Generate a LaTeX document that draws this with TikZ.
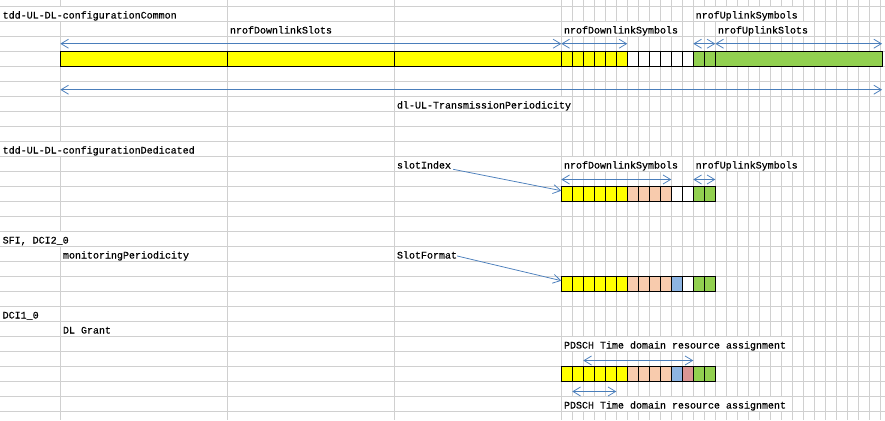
\documentclass[tikz,border=0pt]{standalone}
\usepackage{fontspec}
\setmainfont[FakeBold=0.5]{Liberation Mono}
\usetikzlibrary{arrows.meta}
\definecolor{gridc}{HTML}{D0D0D0}
\definecolor{ylw}{HTML}{FFFF00}
\definecolor{grn}{HTML}{92D050}
\definecolor{org}{HTML}{F8CBAD}
\definecolor{blu}{HTML}{8DB4E2}
\definecolor{pnk}{HTML}{DA9694}
\definecolor{arr}{HTML}{4A7EBB}
\begin{document}
\begin{tikzpicture}[x=1pt,y=-1pt,
  lbl/.style={anchor=base west, inner sep=0pt, font=\fontsize{10}{12}\selectfont},
  cell/.style={draw=black, line width=0.9pt, anchor=north west, minimum width=11pt, minimum height=15pt, inner sep=0pt, outer sep=0pt},
  wide/.style={cell, minimum width=167pt},
  gline/.style={draw=gridc, line width=1pt},
  conn/.style={draw=arr, line width=0.75pt},
  dbl/.style={conn, {Straight Barb[length=7.5pt,width=9pt]}-{Straight Barb[length=7.5pt,width=9pt]}},
  sgl/.style={conn, -{Straight Barb[length=7.5pt,width=9pt]}}]
\useasboundingbox (0,0) rectangle (885,420);
\fill[white] (0,0) rectangle (885,420);
% grid
\foreach \x in {60.3,227.3,394.3} \draw[gline] (\x,0) -- (\x,420);
\foreach \k in {0,...,29} \draw[gline] ({561.3+11*\k},0) -- ({561.3+11*\k},420);
\foreach \k in {0,...,27} \draw[gline] (0,{6.7+15*\k}) -- (885,{6.7+15*\k});
% overflow text hides gridlines
\fill[white] (0,7.2) rectangle (226.8,21.2);
\fill[white] (693.8,7.2) rectangle (802.8,21.2);
\fill[white] (561.8,22.2) rectangle (681.8,36.2);
\fill[white] (715.8,22.2) rectangle (813.8,36.2);
\fill[white] (394.8,97.2) rectangle (571.8,111.2);
\fill[white] (0,142.2) rectangle (226.8,156.2);
\fill[white] (561.8,157.2) rectangle (681.8,171.2);
\fill[white] (693.8,157.2) rectangle (802.8,171.2);
\fill[white] (0,232.2) rectangle (226.8,246.2);
\fill[white] (561.8,337.2) rectangle (791.8,351.2);
\fill[white] (561.8,397.2) rectangle (791.8,411.2);
% bar 1
\node[wide, fill=ylw] (a1) at (60.3,51.7) {};
\node[wide, fill=ylw] (a2) at (227.3,51.7) {};
\node[wide, fill=ylw] (a3) at (394.3,51.7) {};
\foreach \i/\c in {1/ylw,2/ylw,3/ylw,4/ylw,5/ylw,6/ylw,7/white,8/white,9/white,10/white,11/white,12/white,13/grn,14/grn}
  \node[cell, fill=\c] (ba\i) at ({561.3+11*(\i-1)},51.7) {};
\node[wide, fill=grn] (a4) at (715.3,51.7) {};
% bar 2
\foreach \i/\c in {1/ylw,2/ylw,3/ylw,4/ylw,5/ylw,6/ylw,7/org,8/org,9/org,10/org,11/white,12/white,13/grn,14/grn}
  \node[cell, fill=\c] (bb\i) at ({561.3+11*(\i-1)},186.7) {};
% bar 3
\foreach \i/\c in {1/ylw,2/ylw,3/ylw,4/ylw,5/ylw,6/ylw,7/org,8/org,9/org,10/org,11/blu,12/white,13/grn,14/grn}
  \node[cell, fill=\c] (bc\i) at ({561.3+11*(\i-1)},276.7) {};
% bar 4
\foreach \i/\c in {1/ylw,2/ylw,3/ylw,4/ylw,5/ylw,6/ylw,7/org,8/org,9/org,10/org,11/blu,12/pnk,13/grn,14/grn}
  \node[cell, fill=\c] (bd\i) at ({561.3+11*(\i-1)},366.7) {};
% labels
\node[lbl] (t1) at (2.5,18.5) {tdd-UL-DL-configurationCommon};
\node[lbl] (t2) at (695.5,18.5) {nrofUplinkSymbols};
\node[lbl] (t3) at (229.8,33.5) {nrofDownlinkSlots};
\node[lbl] (t4) at (563.8,33.5) {nrofDownlinkSymbols};
\node[lbl] (t5) at (717.8,33.5) {nrofUplinkSlots};
\node[lbl] (t6) at (396.8,108.5) {dl-UL-TransmissionPeriodicity};
\node[lbl] (t7) at (2.5,153.5) {tdd-UL-DL-configurationDedicated};
\node[lbl] (slotIndex) at (396.8,168.5) {slotIndex};
\node[lbl] (t9) at (563.8,168.5) {nrofDownlinkSymbols};
\node[lbl] (t10) at (695.5,168.5) {nrofUplinkSymbols};
\node[lbl] (t11) at (2.5,243.5) {SFI, DCI2\_0};
\node[lbl] (t12) at (62.8,258.5) {monitoringPeriodicity};
\node[lbl] (slotFormat) at (396.8,258.5) {SlotFormat};
\node[lbl] (t14) at (2.5,318.5) {DCI1\_0};
\node[lbl] (t15) at (62.8,333.5) {DL Grant};
\node[lbl] (t16) at (563.8,348.5) {PDSCH Time domain resource assignment};
\node[lbl] (t17) at (563.8,408.5) {PDSCH Time domain resource assignment};
% arrow end points
\coordinate (r1a) at (60.3,43.7);
\coordinate (r1b) at (561.3,43.7);
\coordinate (r1c) at (627.3,43.7);
\coordinate (r1d) at (693.3,43.7);
\coordinate (r1e) at (715.3,43.7);
\coordinate (r1f) at (882,43.7);
\coordinate (p1) at (60.3,89.7);
\coordinate (p2) at (882,89.7);
\coordinate (d1) at (561.3,179.5);
\coordinate (d2) at (671.3,179.5);
\coordinate (u1) at (693.3,179.5);
\coordinate (u2) at (715.3,179.5);
\coordinate (q1) at (583.3,360.5);
\coordinate (q2) at (693.3,360.5);
\coordinate (q3) at (572.3,391.5);
\coordinate (q4) at (616.3,391.5);
% arrows
\draw[dbl] (r1a) -- (r1b);
\draw[dbl] (r1b) -- (r1c);
\draw[dbl] (r1d) -- (r1e);
\draw[dbl] (r1e) -- (r1f);
\draw[dbl] (p1) -- (p2);
\draw[dbl] (d1) -- (d2);
\draw[dbl] (u1) -- (u2);
\draw[dbl] (q1) -- (q2);
\draw[dbl] (q3) -- (q4);
\draw[sgl] ([xshift=2pt,yshift=-0.8pt]slotIndex.base east) -- ([yshift=3.5pt]bb1.west);
\draw[sgl] ([xshift=0pt,yshift=2.5pt]slotFormat.base east) -- ([yshift=3.5pt]bc1.west);
\end{tikzpicture}
\end{document}
